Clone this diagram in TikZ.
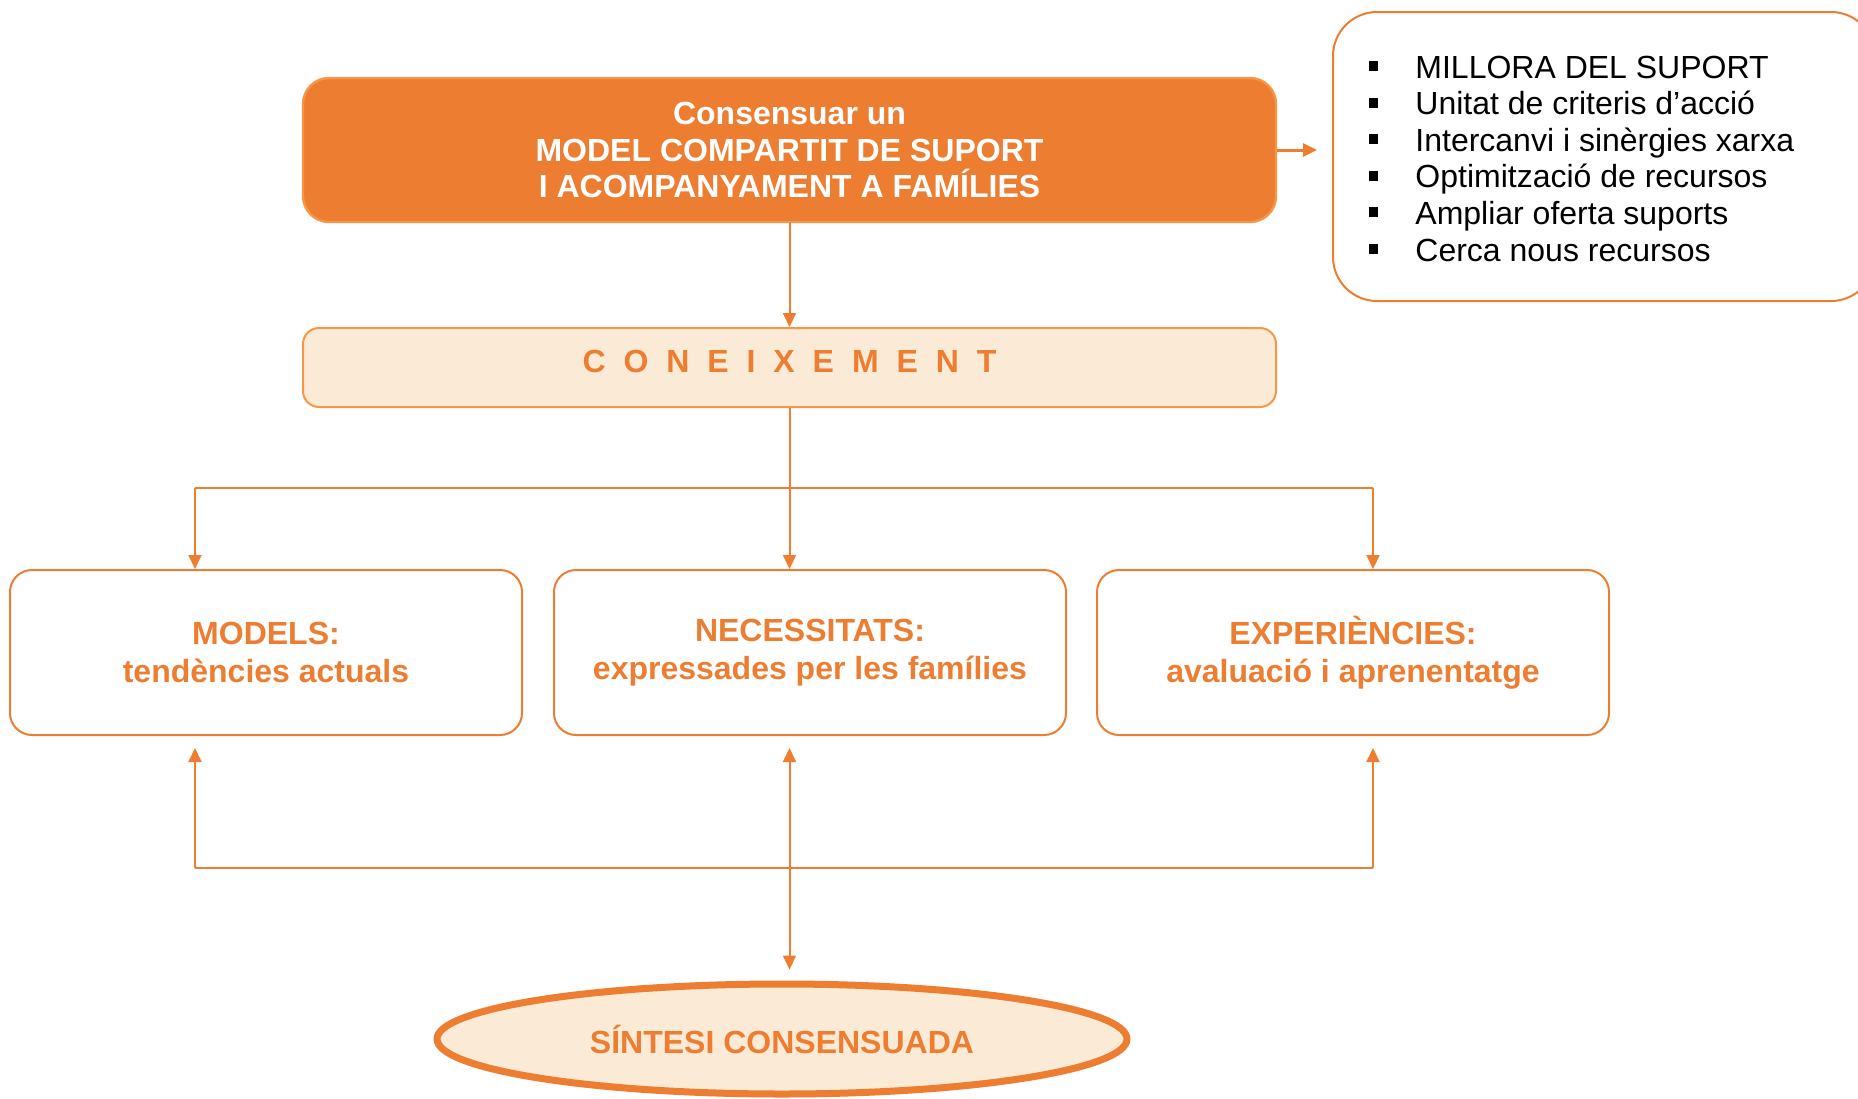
\documentclass[tikz,border=0pt]{standalone}
\usepackage{fontspec}
\setmainfont{Liberation Sans}
\usetikzlibrary{arrows.meta,shapes.geometric}

\definecolor{orangeline}{HTML}{ED7D31}
\definecolor{orangeedge}{HTML}{F79646}
\definecolor{orangelight}{HTML}{FBEBD6}

\newcommand{\sqbullet}{\raisebox{3.5pt}{\rule{4.5pt}{5pt}}}

\begin{document}
\begin{tikzpicture}[
        x = 0.5pt, y = -0.5pt,
        line join=round,
        orangetip/.tip = {Triangle[length=7pt, width=6.5pt]},
        link/.style = {draw=orangeline, line width=1pt},
        topbox/.style = {draw=orangeedge, line width=1.2pt, fill=orangeline, rounded corners=13pt,
            minimum width=486.5pt, minimum height=72pt, align=center, text=white,
            font=\bfseries\fontsize{16}{18.3}\selectfont},
        knbox/.style = {draw=orangeedge, line width=1pt, fill=orangelight, rounded corners=8pt,
            minimum width=486.5pt, minimum height=39.5pt, text depth=6pt, text=orangeline,
            font=\bfseries\fontsize{16}{19}\selectfont},
        areabox/.style = {draw=orangeline, line width=1pt, rounded corners=11pt,
            minimum width=256pt, minimum height=82.5pt, align=center, text=orangeline,
            font=\bfseries\fontsize{16}{19}\selectfont},
        synthesis/.style = {ellipse, draw=orangeline, line width=3.5pt, fill=orangelight, inner sep=0pt,
            minimum width=345pt, minimum height=55pt, text=orangeline,
            font=\bfseries\fontsize{16}{19}\selectfont},
        gainsbox/.style = {draw=orangeline, line width=1pt, rounded corners=22pt,
            minimum width=271pt, minimum height=144.5pt},
        item/.style = {anchor=base west, inner sep=0pt, font=\fontsize{16}{18.3}\selectfont}
    ]

    \useasboundingbox (0,0) rectangle (1858,1098);

    \node[topbox] (model) at (789.5,150) {Consensuar un\\ MODEL COMPARTIT DE SUPORT\\ I ACOMPANYAMENT A FAMÍLIES};
    \node[knbox] (coneixement) at (789.5,367.5) {\addfontfeatures{LetterSpace=56}CONEIXEMENT};

    \node[areabox] (models) at (266,652.5) {MODELS:\\ tendències actuals};
    \node[areabox] (necessitats) at (810,652.5) {NECESSITATS:\\ expressades per les famílies};
    \node[areabox] (experiencies) at (1353,652.5) {EXPERIÈNCIES:\\ avaluació i aprenentatge};

    \node[synthesis] (sintesi) at (782,1039) {SÍNTESI CONSENSUADA};

    \node[gainsbox] (millores) at (1604,156.5) {};
    \foreach \t [count=\i] in {MILLORA DEL SUPORT, Unitat de criteris d’acció, Intercanvi i sinèrgies xarxa,
            Optimització de recursos, Ampliar oferta suports, Cerca nous recursos} {
        \node[item] (item\i) at (1369, {78+36.6*(\i-1)}) {\sqbullet\hspace{18.5pt}\t};
    }

    \coordinate (left top) at (195,488);
    \coordinate (right top) at (1373,488);
    \coordinate (left bottom) at (195,868);
    \coordinate (right bottom) at (1373,868);

    \draw[link, -orangetip] (model) -- (coneixement);
    \draw[link, line width=1.5pt, -orangetip, shorten >=7.5pt] (model.east) -- (model.east -| millores.west);

    \draw[link, -orangetip] (coneixement) -- (coneixement.south |- necessitats.north);
    \draw[link] (left top) -- (right top);
    \draw[link, -orangetip] (left top) -- (left top |- models.north);
    \draw[link, -orangetip] (right top) -- (right top |- experiencies.north);

    \draw[link] (left bottom) -- (right bottom);
    \draw[link, -orangetip, shorten >=6pt] (left bottom) -- (left bottom |- models.south);
    \draw[link, -orangetip, shorten >=6pt] (right bottom) -- (right bottom |- experiencies.south);
    \draw[link, orangetip-orangetip, shorten <=6pt, shorten >=5.5pt]
        (coneixement.south |- necessitats.south) -- (coneixement.south |- sintesi.north);

\end{tikzpicture}
\end{document}
